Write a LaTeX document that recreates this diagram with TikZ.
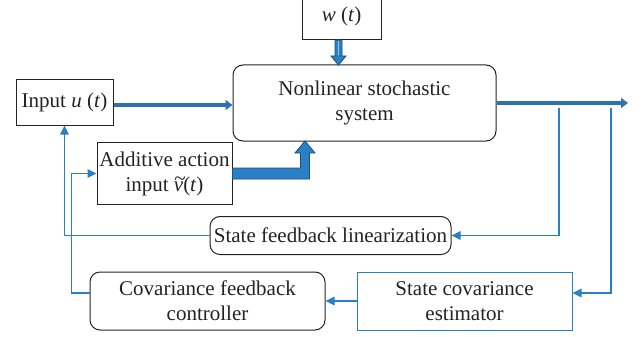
\documentclass[tikz,border=0pt]{standalone}
\usepackage{fontspec}
\setmainfont{Liberation Serif}
\usetikzlibrary{arrows.meta,calc}
\definecolor{flowblue}{RGB}{42,128,196}
\definecolor{thickblue}{RGB}{44,114,178}
\definecolor{edgeblue}{RGB}{28,78,128}
\definecolor{boxgray}{RGB}{35,35,35}
\newcommand{\tildev}{\rlap{\raisebox{6pt}{\kern0.5pt\textasciitilde}}\textit{v}}
\begin{document}
\begin{tikzpicture}[x=1pt,y=-1pt,font=\fontsize{21}{25}\selectfont,line join=miter,
 blk/.style={draw=boxgray,line width=1pt,align=center,inner sep=0pt,text=boxgray},
 rblk/.style={blk,rounded corners=10pt},
 fb/.style={draw=flowblue,line width=1.3pt,-{Triangle[length=9pt,width=8.5pt]}},
 bigarrow/.style={draw=thickblue,line width=4.5pt,-{Triangle[length=7pt,width=10pt]}},
 blockarrow/.style={fill=flowblue,draw=edgeblue,line width=0.8pt}]
 \useasboundingbox (0,0) rectangle (642,337);
 \clip (0,0) rectangle (642,337);
 % blocks
 \node[blk,minimum width=79pt,minimum height=46pt,anchor=south] (w) at (341.5,40) {\raisebox{-3pt}{\textit{w} (\textit{t})}};
 \node[rblk,minimum width=263pt,minimum height=76pt] (sys) at (364.5,103) {Nonlinear stochastic\\system};
 \node[blk,minimum width=97pt,minimum height=46pt] (inp) at (64.5,102) {Input \textit{u} (\textit{t})};
 \node[blk,minimum width=135pt,minimum height=62pt] (add) at (164.5,173.5) {Additive action\\input \tildev(\textit{t})};
 \node[rblk,minimum width=241pt,minimum height=38pt] (sfl) at (330.5,235.5) {State feedback linearization};
 \node[rblk,minimum width=235pt,minimum height=58pt] (cfc) at (207.5,301) {Covariance feedback\\controller};
 \node[blk,draw=flowblue,minimum width=215pt,minimum height=58pt] (sce) at (464.5,301) {State covariance\\estimator};
 \coordinate (out) at (628,103);
 \coordinate (b1) at (559,108);
 \coordinate (b2) at (611,108);
 % thick signal arrows
 \draw[bigarrow] ([yshift=-3pt]inp.east) coordinate (ia) -- (ia -| sys.west);
 \draw[bigarrow] (sys.east) -- (out);
 \filldraw[blockarrow] ($(w.south)+(-6.5,0)$) -- ++(7,0) -- ++(0,16) -- ++(4,0) -- ++(-7.5,9) -- ++(-7.5,-9) -- ++(4,0) -- cycle;
 \draw[white!55!flowblue,line width=1pt] ($(w.south)+(-3,1)$) -- ++(0,14);
 \filldraw[blockarrow] ($(add.east)+(0,-5.5)$) -- ++(68,0) -- ++(0,-15) -- ++(-5.5,0) -- ++(10,-12) -- ++(10,12) -- ++(-5.5,0) -- ++(0,26) -- ++(-77,0) -- cycle;
 % feedback loops
 \draw[fb] (b1) |- (sfl.east);
 \draw[fb] (b2) |- ($(sce.east)+(0,-8)$);
 \draw[fb] (sce.west) -- (cfc.east);
 \draw[fb] (sfl.west) -| (inp.south);
 \draw[fb] ($(cfc.west)+(0,-8)$) -- ++(-18,0) |- (add.west);
\end{tikzpicture}
\end{document}
